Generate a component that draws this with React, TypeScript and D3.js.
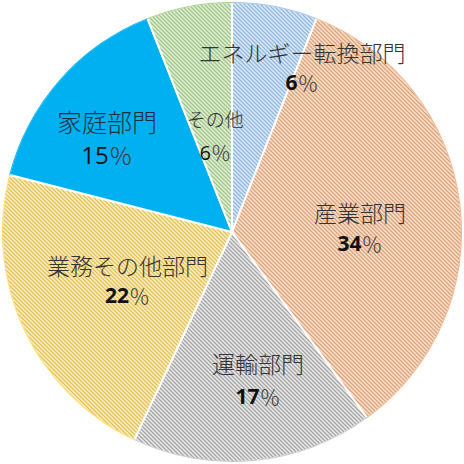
import React from 'react';
import * as d3 from 'd3';

// sector shares (%), clockwise from 12 o'clock
const categories = ['エネルギー転換部門', '産業部門', '運輸部門', '業務その他部門', '家庭部門', 'その他'];
const shares = [6, 34, 17, 22, 15, 6];
const percentLabels = ['6', '34', '17', '22', '15', '6'];

// fill style per slice: hatch line colour on a light background (家庭 is solid)
const bgColors = ['#deebf7', '#fde2cc', '#ececec', '#fff1c6', '#00b0f0', '#e2f0d9'];
const lineColors = ['#8fb6df', '#d9a07a', '#a3a3a3', '#e3bf55', '#00b0f0', '#9fc485'];
const edgeColors = ['#9dc3e6', '#f4b183', '#c9c9c9', '#ffd966', '#00b0f0', '#a9d18e'];

// label placement: block centre in polar coords (radius px, angle deg clockwise from top)
const labelRadius = [179, 128, 150, 115, 157, 98];
const labelAngle = [23, 88, 170, 245.4, 307.2, 350.1];
const nameSize = [23, 23, 23, 23, 25, 19];
const pctSize = [21, 21, 21, 21, 24, 20];
const lineGap = [30, 31, 33, 30, 33, 34];

const W = 464;
const H = 464;
const cx = 232;
const cy = 232;
const R = 230;
const FONT = '"Noto Sans CJK JP", "Noto Sans", sans-serif';

const App: React.FC = () => {
  const arcs = d3.pie<number>().sort(null).value(d => d)(shares);
  const arcGen = d3.arc<d3.PieArcDatum<number>>().innerRadius(0).outerRadius(R);
  const edgeGen = d3.arc<d3.PieArcDatum<number>>().innerRadius(R - 1).outerRadius(R);

  return (
    <svg
      width={W}
      height={H}
      style={{ position: 'absolute', left: 0, top: 0, background: '#fff' }}
    >
      <defs>
        {categories.map((c, i) => (
          <pattern
            key={c}
            id={`hatch${i}`}
            patternUnits="userSpaceOnUse"
            width={4}
            height={4}
          >
            <rect width={4} height={4} fill={bgColors[i]} />
            <path
              d="M-1,-1 L5,5 M-1,3 L1,5 M3,-1 L5,1"
              stroke={lineColors[i]}
              strokeWidth={1.3}
            />
          </pattern>
        ))}
      </defs>
      <g transform={`translate(${cx},${cy})`}>
        {arcs.map((a, i) => (
          <path
            key={categories[i]}
            d={arcGen(a) || ''}
            fill={i === 4 ? bgColors[i] : `url(#hatch${i})`}
            stroke="#fff"
            strokeWidth={2}
            strokeLinejoin="round"
          />
        ))}
        {arcs.map((a, i) => (
          <path key={`e${i}`} d={edgeGen(a) || ''} fill={edgeColors[i]} />
        ))}
        {arcs.map((a, i) => {
          const ang = (labelAngle[i] * Math.PI) / 180;
          const x = labelRadius[i] * Math.sin(ang);
          const y = -labelRadius[i] * Math.cos(ang);
          return (
            <g key={`l${i}`} textAnchor="middle">
              <text
                x={x}
                y={y - lineGap[i] / 2}
                dominantBaseline="central"
                fontFamily={FONT}
                fontWeight={300}
                fontSize={nameSize[i]}
                fill={i === 4 ? '#1f2f40' : '#333'}
              >
                {categories[i]}
              </text>
              <text
                x={x}
                y={y + lineGap[i] / 2}
                dominantBaseline="central"
                fontSize={pctSize[i]}
                fill="#111"
              >
                <tspan fontFamily='"Open Sans", sans-serif' fontWeight={i === 5 || i === 4 ? 500 : 700}>
                  {percentLabels[i]}
                </tspan>
                <tspan fontFamily='"Noto Sans CJK JP", sans-serif' fontWeight={300} fill="#333">
                  ％
                </tspan>
              </text>
            </g>
          );
        })}
      </g>
    </svg>
  );
};

export default App;
